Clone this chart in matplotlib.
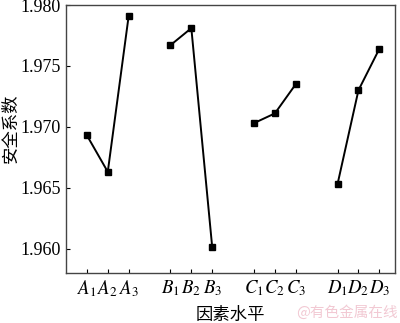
import matplotlib
matplotlib.use('Agg')
import matplotlib.pyplot as plt

plt.rcParams['font.family'] = ['Liberation Serif', 'Noto Sans CJK SC']
plt.rcParams['mathtext.fontset'] = 'stix'

# Factor levels and safety factor values
factors = ['A', 'B', 'C', 'D']
levels = [1, 2, 3]
safety = {
    'A': [1.9693, 1.9663, 1.9791],
    'B': [1.9767, 1.9781, 1.9601],
    'C': [1.9703, 1.9711, 1.9735],
    'D': [1.9653, 1.9730, 1.9764],
}
yticks = [1.960, 1.965, 1.970, 1.975, 1.980]

fig = plt.figure(figsize=(4.0, 3.23), dpi=100)
ax = fig.add_axes([0.165, 0.155, 0.8225, 0.8295])

xpos, xlabels = [], []
for i, f in enumerate(factors):
    x = [i * 4 + j for j in range(len(levels))]
    ax.plot(x, safety[f], color='black', lw=1.4, marker='s', ms=4.5)
    xpos += x
    xlabels += [f'${f}_{l}$' for l in levels]

ax.set_xticks(xpos)
ax.set_xticklabels(xlabels, fontsize=13.5)
ax.set_yticks(yticks)
ax.set_yticklabels([f'{v:.3f}' for v in yticks], fontsize=13)
ax.set_xlim(-1, 14.75)
ax.set_ylim(1.958, 1.980)
ax.tick_params(direction='in', length=3, width=0.8, pad=4)
for s in ax.spines.values():
    s.set_linewidth(1.0)
    s.set_color('#444444')

ax.set_xlabel('因素水平', family=['Noto Sans CJK SC'], fontsize=12.5)
ax.xaxis.set_label_coords(0.5, -0.122)
ax.set_ylabel('安全系数', family=['Noto Sans CJK SC'], fontsize=12.5)
ax.yaxis.set_label_coords(-0.142, 0.54)

fig.text(0.995, 0.01, '@有色金属在线', family=['Noto Sans CJK SC'],
         fontsize=10.5, color='#f2c9d3', ha='right', va='bottom')

fig.savefig('out.png', dpi=100)
